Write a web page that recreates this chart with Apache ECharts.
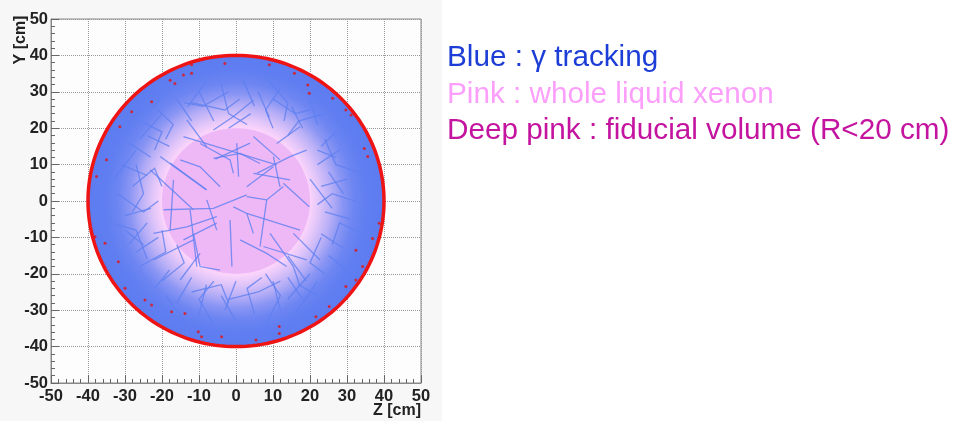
<!DOCTYPE html>
<html>
<head>
<meta charset="utf-8">
<script src="https://cdn.jsdelivr.net/npm/echarts@6/dist/echarts.min.js"></script>
<style>
  html, body { margin: 0; padding: 0; background: #fff; }
  #chart { width: 961px; height: 425px; }
</style>
</head>
<body>
<div id="chart"></div>
<script>
// axis range of the event display (cm)
const axisMin = -50, axisMax = 50, tickStep = 10

// detector volumes
const liquidR = 40      // whole liquid xenon
const fiducialR = 20    // fiducial volume

// gamma tracks, each one a polyline of [z, y] points
const tracks = [
  [[-5.6, 11.5], [3.8, 15.9]],
  [[0.2, 15.9], [0.7, 6.7]],
  [[-14.2, 17.7], [11, 9.9]],
  [[-17.8, 10.4], [-7.9, 3.1]],
  [[-19.6, -2.4], [-6.1, -2], [2.9, 1.7]],
  [[-1.6, -5.2], [-1.1, -18]],
  [[-12.4, -2.4], [-10.6, -18]],
  [[2.9, 1.2], [8.3, 0.3], [12.8, 4.0]],
  [[4.7, 7.6], [14.6, 5.8]],
  [[8.3, 0.3], [6.5, -12.5]],
  [[7.4, -12.5], [19.1, -16.2]],
  [[-23.2, 8.6], [-11.5, -2.4]],
  [[-14.2, -10.7], [-5.2, -6.1]],
  [[-20.5, 12.2], [-8, 3]],
  [[-6.1, 11.7], [1.1, 13.1], [6.5, 10.3]],
  [[4.7, 17.7], [11.9, 11.3]],
  [[10.1, 12.2], [11.9, 3.9]],
  [[-7.9, 0.3], [-5.2, -8]],
  [[2.9, -3.4], [17.3, -8]],
  [[-16.9, 5.8], [-17.8, -8]],
  [[-11.5, -8.9], [-9.7, -18], [-4.3, -19]],
  [[1.1, -10.7], [8.3, -14.4], [13.7, -18]],
  [[-9.7, 15.8], [-1.6, 11.3], [-0.7, 7.6]],
  [[11, 15.8], [17.3, 20.4]],
  [[12.8, 4.9], [19.8, -1.6]],
  [[-22.3, -16.2], [-11.5, -10.7]],
  [[2.9, 3.9], [10.1, 9.4]],
  [[-6.1, 19.5], [-0.7, 23.2], [4.7, 27.7]],
  [[-13.3, 22.3], [-7.9, 14.9]],
  [[15.5, -8.9], [22.7, -16.2]],
  [[-9.7, -14.4], [-15.1, -21.7]],
  [[-0.7, -1.6], [2.9, -3.4], [4.7, -8.9]],
  [[-4.3, 3.9], [-9.7, 9.4], [-15.1, 11.3]],
  [[5.6, 7.6], [14.6, 12.2], [19.1, 14]],
  [[-5.2, -4.3], [-13.3, -7.1], [-22.3, -8.9]],
  [[9.2, -8.9], [15.5, -18], [17.3, -23.5]],
  // top of the ring
  [[-10, 30], [-6, 22]],
  [[-4, 32], [-2, 24], [3, 21]],
  [[6, 30], [9, 23]],
  [[12, 31], [8, 25], [10, 20]],
  [[-16, 28], [-12, 22]],
  [[15, 26], [18, 20]],
  [[-22, 26], [-17, 21], [-19, 17]],
  [[20, 28], [22, 21]],
  [[2, 33], [5, 26]],
  [[-8, 33], [-13, 26]],
  [[-2, 30], [-9, 26], [-14, 27]],
  [[8, 34], [14, 27], [13, 22]],
  [[-18, 31], [-24, 24]],
  [[24, 24], [17, 22], [14, 18]],
  [[-26, 22], [-20, 19], [-22, 14]],
  [[-12, 27], [-3, 25], [1, 28]],
  [[10, 28], [16, 24], [20, 25]],
  [[-20, 24], [-26, 17]],
  [[4, 24], [-2, 20]],
  // left
  [[-31, 10], [-24, 7]],
  [[-30, -4], [-23, -2]],
  [[-32, 2], [-25, -3], [-21, 0]],
  [[-29, 16], [-23, 12]],
  [[-27, -14], [-21, -10]],
  [[-30, -8], [-25, -12]],
  [[-33, 6], [-27, 14]],
  [[-28, 4], [-22, 9], [-20, 4]],
  [[-34, -6], [-27, -8], [-24, -16]],
  [[-26, -18], [-19, -14], [-20, -8]],
  [[-27, 10], [-25, 2], [-28, -3]],
  [[-24, -6], [-29, -12]],
  // bottom
  [[-10, -31], [-8, -23]],
  [[-3, -30], [0, -22]],
  [[5, -31], [3, -24], [7, -21]],
  [[12, -30], [10, -22]],
  [[-16, -28], [-12, -21]],
  [[18, -27], [14, -21]],
  [[-22, -24], [-18, -19]],
  [[0, -33], [-4, -26]],
  [[22, -26], [17, -23]],
  [[-6, -34], [-10, -27], [-6, -22]],
  [[8, -34], [12, -26], [8, -20]],
  [[-14, -33], [-19, -26]],
  [[16, -31], [22, -22]],
  [[-2, -27], [6, -25], [12, -22]],
  [[-12, -25], [-4, -23], [-2, -28]],
  [[14, -27], [20, -20]],
  // right
  [[30, 6], [23, 4]],
  [[31, -5], [24, -3]],
  [[28, 14], [22, 10]],
  [[29, -13], [23, -9]],
  [[32, 0], [26, 2], [22, -1]],
  [[27, 19], [23, 15]],
  [[30, -19], [25, -15]],
  [[33, 8], [27, 10], [24, 17]],
  [[34, -9], [28, -6], [26, -12]],
  [[24, -20], [20, -17], [23, -10]],
  [[26, -2], [20, 6]],
  [[25, 8], [29, 2]],
  [[22, 14], [27, 12]],
  [[-20, -22], [-14, -17], [-16, -12]],
  [[19, -22], [14, -15]],
  [[-24, 18], [-18, 15]]
]

// red hits near the wall
const hits = [
  [-17.8, 33.2], [-14.2, 34.6], [-12, 35.1], [-22.8, 27.3], [-28.2, 24.5],
  [-35, 11.3], [-37.7, 6.7], [-31.4, 20.4], [-12, 37.4], [-3, 37.8], [-16.5, 32.3],
  [15.8, 35.1], [19.4, 31.9], [26.1, 28.2], [29.7, 25], [34.7, 14.4],
  [35.6, 12.2], [19.8, 29.6], [9, 37.4], [31.1, 23.6],
  [-38.1, -9.8], [-35.4, -11.6], [-31.8, -16.7], [-30, -24], [-22.8, -28.6],
  [-17.4, -30.4], [-10.2, -35.9], [-3.9, -37.3], [-24.6, -27.2], [-9.3, -37.3], [-13.8, -30.9],
  [38.7, -6.1], [36.9, -10.3], [34.2, -18], [32.4, -21.7], [29.7, -23.5],
  [25.2, -29], [21.6, -31.8], [11.7, -34.5], [5.4, -38.2], [11.7, -36.4], [32.4, -13.5]
]

const legendLines = [
  { text: 'Blue : γ tracking', color: '#1c3dd6' },
  { text: 'Pink : whole liquid xenon', color: '#fb9ffb' },
  { text: 'Deep pink : fiducial volume (R<20 cm)', color: '#c3139f' }
]

function circlePoints(api, r) {
  const pts = []
  for (let a = 0; a < 360; a += 2) {
    const t = a * Math.PI / 180
    pts.push(api.coord([r * Math.cos(t), r * Math.sin(t)]))
  }
  return pts
}

function discSeries(r, z, styleFn) {
  return {
    type: 'custom',
    z: z,
    silent: true,
    data: [[r]],
    renderItem: function (params, api) {
      const radius = api.value(0)
      return {
        type: 'polygon',
        shape: { points: circlePoints(api, radius) },
        style: styleFn(api, radius)
      }
    }
  }
}

const chart = echarts.init(document.getElementById('chart'))

const labelFont = { fontSize: 16.5, fontWeight: 'bold', color: '#222', fontFamily: 'Liberation Sans' }

function axis(margin) {
  return {
    type: 'value',
    min: axisMin,
    max: axisMax,
    interval: tickStep,
    axisLine: { show: true, onZero: false, lineStyle: { color: '#888' } },
    axisTick: { inside: true, length: 8, lineStyle: { color: '#666' } },
    minorTick: { show: true, splitNumber: 5, length: 4, lineStyle: { color: '#666' } },
    splitLine: { show: true, lineStyle: { type: 'dotted', color: '#9a9a9a' } },
    axisLabel: Object.assign({ margin: margin, showMinLabel: true, showMaxLabel: true }, labelFont)
  }
}

chart.setOption({
  animation: false,
  backgroundColor: '#f7f7f7',
  grid: { left: 51, right: 540, top: 19, bottom: 42, show: true, backgroundColor: '#fdfdfd', borderColor: '#888', borderWidth: 1 },
  xAxis: axis(5),
  yAxis: axis(3),
  graphic: [
    { type: 'rect', shape: { x: 442, y: 0, width: 519, height: 425 }, style: { fill: '#fff' } },
    { type: 'rect', shape: { x: 0, y: 421, width: 442, height: 4 }, style: { fill: '#fff' } },
    { type: 'text', x: 21, y: 40, rotation: Math.PI / 2,
      style: { text: 'Y [cm]', font: 'bold 16px "Liberation Sans"', fill: '#222', align: 'center', verticalAlign: 'middle' } },
    { type: 'text', x: 421, y: 411,
      style: { text: 'Z [cm]', font: 'bold 16px "Liberation Sans"', fill: '#222', align: 'right', verticalAlign: 'middle' } }
  ].concat(legendLines.map(function (l, i) {
    return {
      type: 'text', x: 447, y: [57.5, 94.5, 130.5][i],
      style: { text: l.text, font: '29.7px "Liberation Sans"', fill: l.color, align: 'left', verticalAlign: 'middle' }
    }
  })),
  series: [
    discSeries(liquidR, 1, function () { return { fill: '#fbd4fb' } }),
    discSeries(fiducialR, 2, function () { return { fill: '#eeb8f7' } }),
    discSeries(liquidR, 3, function (api, r) {
      const c = api.coord([0, 0])
      const rpx = api.coord([r, 0])[0] - c[0]
      return {
        fill: new echarts.graphic.RadialGradient(c[0], c[1], rpx, [
          { offset: 0, color: 'rgba(85,120,240,0)' },
          { offset: 0.5, color: 'rgba(85,120,240,0)' },
          { offset: 0.56, color: 'rgba(85,120,240,0.15)' },
          { offset: 0.65, color: 'rgba(85,120,240,0.42)' },
          { offset: 0.72, color: 'rgba(85,120,240,0.68)' },
          { offset: 0.8, color: 'rgba(85,120,240,0.86)' },
          { offset: 0.88, color: 'rgba(85,120,240,0.93)' },
          { offset: 1, color: 'rgba(85,120,240,0.96)' }
        ], true)
      }
    }),
    {
      type: 'lines',
      coordinateSystem: 'cartesian2d',
      polyline: true,
      z: 4,
      silent: true,
      lineStyle: { color: 'rgba(95,128,240,0.8)', width: 1.3, opacity: 1 },
      data: tracks.map(function (t) { return { coords: t } })
    },
    {
      type: 'scatter',
      z: 5,
      silent: true,
      symbolSize: 3,
      itemStyle: { color: '#e31313' },
      data: hits
    },
    discSeries(liquidR, 6, function () { return { fill: 'none', stroke: '#ee1414', lineWidth: 3.5 } })
  ]
})
</script>
</body>
</html>
